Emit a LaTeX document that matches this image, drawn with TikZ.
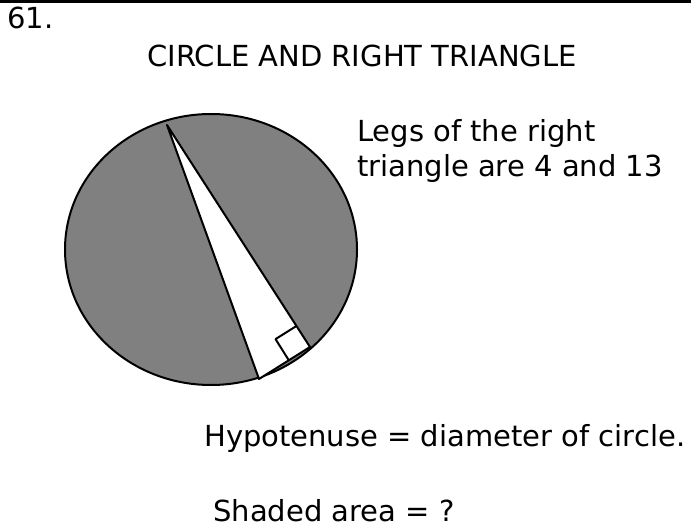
\documentclass[tikz,border=0pt]{standalone}
\usepackage{fontspec}
\setmainfont{DejaVu Sans}
\usepackage{xcolor}
\usepackage{tikz}
\usetikzlibrary{
	calc,
	positioning
}
\definecolor{ShadeGray}{RGB}{128,128,128}

\begin{document}
\begin{tikzpicture}[x=1pt, y=-1pt, line join=round,
		txt/.style={anchor=base west, inner sep=0pt, font=\fontsize{29}{35}\selectfont}]
		\useasboundingbox (0,0) rectangle (691,529);
		\draw[line width=3pt] (0,1.5) -- (691,1.5);
		\node[txt] (num) at (7,29) {61.};
		\node[txt, anchor=base] (title) at (362,67) {CIRCLE AND RIGHT TRIANGLE};
		% circle and triangle
		\draw[fill=ShadeGray, line width=2pt] (211,249.5) ellipse [x radius=146, y radius=135.5];
		\coordinate (A) at (167,125);
		\coordinate (B) at (259,379);
		\coordinate (C) at (310,347);
		\draw[fill=white, line width=2pt] (A) -- (B) -- (C) -- cycle;
		\draw[line width=2pt] ($(C)!25pt!(B)$) -- ($(C)!25pt!(B)!25pt!90:(C)$) -- ($(C)!25pt!(A)$);
		\node[txt] (legs) at (357,142) {Legs of the right};
		\node[txt, below=0pt of legs.base west, anchor=base west, yshift=-35pt] (legs2) {triangle are 4 and 13};
		\node[txt] (hyp) at (204,446) {Hypotenuse = diameter of circle.};
		\node[txt] (shade) at (213,521) {Shaded area = ?};
	\end{tikzpicture}
\end{document}
